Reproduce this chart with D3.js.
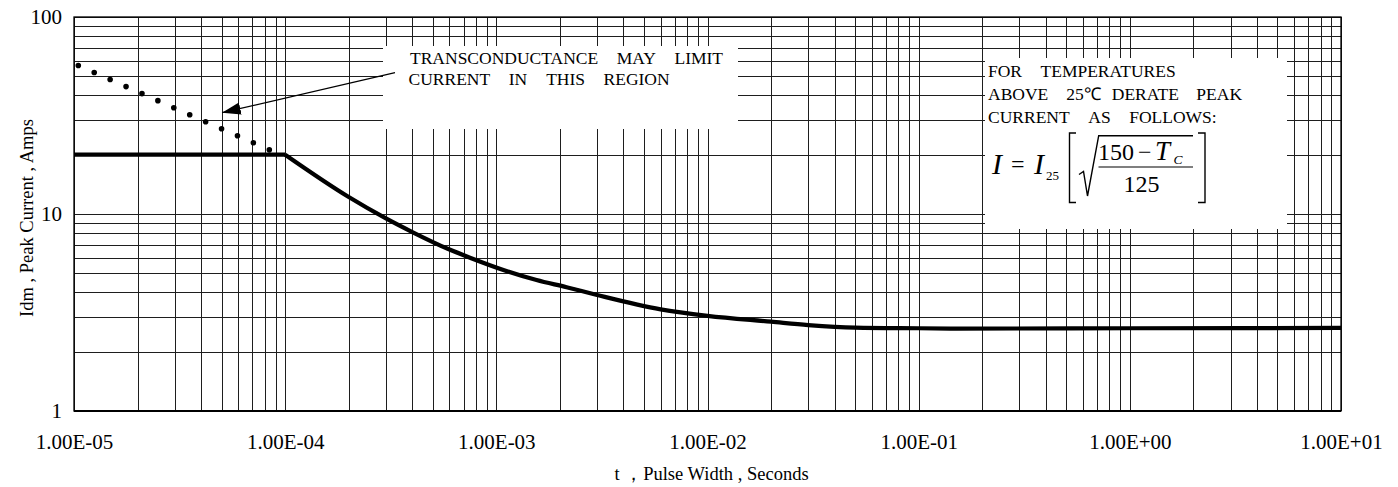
<!DOCTYPE html>
<html><head><meta charset="utf-8">
<script src="https://cdn.jsdelivr.net/npm/d3@7"></script>
<style>
html,body{margin:0;padding:0;background:#fff;}
svg{display:block;}
text{font-family:"Liberation Serif","Times New Roman",serif;fill:#000;}
</style></head><body>
<svg id="chart" width="1398" height="487"></svg>
<script>
// ---------- data ----------
const xTickValues = [1e-5, 1e-4, 1e-3, 1e-2, 1e-1, 1, 10];
const xTickLabels = ["1.00E-05","1.00E-04","1.00E-03","1.00E-02","1.00E-01","1.00E+00","1.00E+01"];
const yTickValues = [1, 10, 100];
const yTickLabels = ["1", "10", "100"];

const flatT = [1e-5, 1e-4];
const flatI = [20, 20];

const curveT = [1e-4, 2e-4, 3e-4, 4e-4, 6e-4, 7.5e-4, 1.08e-3, 1.55e-3, 2.15e-3, 3e-3, 6e-3, 1e-2, 2e-2, 3e-2, 5e-2, 1e-1, 1.5e-1, 1, 10];
const curveI = [20, 12.2, 9.5, 8.1, 6.6, 6.0, 5.2, 4.62, 4.25, 3.88, 3.28, 3.04, 2.84, 2.73, 2.65, 2.63, 2.62, 2.63, 2.64];

const dotT = [1e-5, 9e-5];
const dotI = [58, 20.5];

const xTitle = "t \uFF0CPulse Width , Seconds";
const yTitle = "Idm , Peak Current , Amps";
const note1 = [["TRANSCONDUCTANCE","MAY","LIMIT"],["CURRENT","IN","THIS","REGION"]];
const note2 = [["FOR","TEMPERATURES"],["ABOVE","25\u2103","DERATE","PEAK"],["CURRENT","AS","FOLLOWS:"]];

// ---------- layout ----------
const svg = d3.select("#chart");
const L = 74, R = 1341, T = 17, B = 411;
const x = d3.scaleLog().domain([1e-5, 10]).range([L, R]);
const y = d3.scaleLog().domain([1, 100]).range([B, T]);
const serif = '"Liberation Serif","Times New Roman",serif';

// grid
const gx = svg.append("g").attr("transform", `translate(0,${B})`)
  .call(d3.axisBottom(x).tickValues(x.ticks()).tickSize(-(B - T)).tickFormat(""));
gx.select(".domain").remove();
gx.selectAll("line").attr("stroke", "#1e1e1e").attr("stroke-width", 1).attr("shape-rendering", "crispEdges");

const gy = svg.append("g").attr("transform", `translate(${L},0)`)
  .call(d3.axisLeft(y).tickValues(y.ticks()).tickSize(-(R - L)).tickFormat(""));
gy.select(".domain").remove();
gy.selectAll("line").attr("stroke", "#1e1e1e").attr("stroke-width", 1).attr("shape-rendering", "crispEdges");

// frame
svg.append("rect").attr("x", L).attr("y", T).attr("width", R - L).attr("height", B - T)
  .attr("fill", "none").attr("stroke", "#000").attr("stroke-width", 1.3);
svg.append("line").attr("x1", L).attr("x2", R).attr("y1", B).attr("y2", B)
  .attr("stroke", "#000").attr("stroke-width", 2);

// tick labels
const ax = svg.append("g").attr("transform", `translate(0,${B})`)
  .call(d3.axisBottom(x).tickValues(xTickValues).tickSize(0).tickPadding(23)
    .tickFormat((d, i) => xTickLabels[i]));
ax.select(".domain").remove();
ax.attr("font-family", serif).attr("font-size", 21);
ax.selectAll("text").attr("fill", "#000");

const ay = svg.append("g").attr("transform", `translate(${L},0)`)
  .call(d3.axisLeft(y).tickValues(yTickValues).tickSize(0).tickPadding(12)
    .tickFormat((d, i) => yTickLabels[i]));
ay.select(".domain").remove();
ay.attr("font-family", serif).attr("font-size", 21);
ay.selectAll("text").attr("fill", "#000");

// axis titles
svg.append("text").attr("x", (L + R) / 2 + 4).attr("y", 480).attr("text-anchor", "middle")
  .attr("font-size", 18.5).text(xTitle);
svg.append("text").attr("transform", `translate(33,${(T + B) / 2 + 4}) rotate(-90)`)
  .attr("text-anchor", "middle").attr("font-size", 18.5).text(yTitle);

// series
const line = d3.line().x(d => x(d[0])).y(d => y(d[1]));
svg.append("path").datum(flatT.map((t, i) => [t, flatI[i]]))
  .attr("d", line).attr("fill", "none").attr("stroke", "#000").attr("stroke-width", 4.3);
svg.append("path").datum(curveT.map((t, i) => [t, curveI[i]]))
  .attr("d", line.curve(d3.curveMonotoneX)).attr("fill", "none").attr("stroke", "#000")
  .attr("stroke-width", 4.2).attr("stroke-linejoin", "round");
const dotLine = d3.line().x(d => x(d[0])).y(d => y(d[1]));
svg.append("path").datum(dotT.map((t, i) => [t, dotI[i]]))
  .attr("d", dotLine).attr("fill", "none").attr("stroke", "#000")
  .attr("stroke-width", 5.6).attr("stroke-linecap", "round")
  .attr("stroke-dasharray", "0 17.4").attr("stroke-dashoffset", -4.7);

// note boxes
svg.append("rect").attr("x", 383).attr("y", 46).attr("width", 355).attr("height", 83).attr("fill", "#fff");
svg.append("rect").attr("x", 985).attr("y", 58).attr("width", 302).attr("height", 171).attr("fill", "#fff");

function wordLine(words, x0, yb, gaps, size) {
  const t = svg.append("text").attr("x", x0).attr("y", yb).attr("font-size", size);
  words.forEach((w, i) => {
    const ts = t.append("tspan").text(w);
    if (i > 0) ts.attr("dx", gaps[i - 1]);
  });
}
wordLine(note1[0], 410, 63.5, [18.5, 18.5], 17.5);
wordLine(note1[1], 408.5, 85, [18.5, 19, 18.5], 17.5);
wordLine(note2[0], 988, 77, [19.5], 17.5);
wordLine(note2[1], 988, 100, [18, 11, 17.5], 17.5);
wordLine(note2[2], 988, 123, [20, 18.5], 17.5);

// arrow
const defs = svg.append("defs");
defs.append("marker").attr("id", "ah").attr("markerUnits", "userSpaceOnUse")
  .attr("markerWidth", 20).attr("markerHeight", 14).attr("refX", 15).attr("refY", 5)
  .attr("orient", "auto").attr("viewBox", "0 0 16 10")
  .append("path").attr("d", "M0,0 L15,5 L0,10 Z").attr("fill", "#000");
svg.append("line").attr("x1", 395).attr("y1", 72.7).attr("x2", 222).attr("y2", 112.7)
  .attr("stroke", "#000").attr("stroke-width", 1.3).attr("marker-end", "url(#ah)");

// formula
const f = svg.append("g");
f.append("text").attr("x", 992).attr("y", 173.5).attr("font-size", 30).attr("font-style", "italic").text("I");
f.append("text").attr("x", 1011).attr("y", 172).attr("font-size", 24).text("=");
f.append("text").attr("x", 1034).attr("y", 173.5).attr("font-size", 30).attr("font-style", "italic").text("I");
f.append("text").attr("x", 1046).attr("y", 179.5).attr("font-size", 13).text("25");
// brackets
f.append("path").attr("d", "M1076,133 L1069.5,133 L1069.5,202.5 L1076,202.5")
  .attr("fill", "none").attr("stroke", "#000").attr("stroke-width", 1.4);
f.append("path").attr("d", "M1198,133 L1205,133 L1205,202.5 L1198,202.5")
  .attr("fill", "none").attr("stroke", "#000").attr("stroke-width", 1.4);
// radical
f.append("path").attr("d", "M1079,174.5 L1083.5,171.5 L1087.5,196 L1098.7,135.7 L1193,135.7")
  .attr("fill", "none").attr("stroke", "#000").attr("stroke-width", 1.4).attr("stroke-linejoin", "miter");
f.append("line").attr("x1", 1098.5).attr("x2", 1193).attr("y1", 167).attr("y2", 167)
  .attr("stroke", "#000").attr("stroke-width", 1.2);
f.append("text").attr("x", 1098).attr("y", 159.5).attr("font-size", 24).text("150");
f.append("text").attr("x", 1138).attr("y", 159.5).attr("font-size", 24).text("\u2212");
f.append("text").attr("x", 1155).attr("y", 159.5).attr("font-size", 27).attr("font-style", "italic").text("T");
f.append("text").attr("x", 1173.5).attr("y", 164).attr("font-size", 13.5).attr("font-style", "italic").text("C");
f.append("text").attr("x", 1141.5).attr("y", 191.7).attr("font-size", 24).attr("text-anchor", "middle").text("125");
</script>
</body></html>
